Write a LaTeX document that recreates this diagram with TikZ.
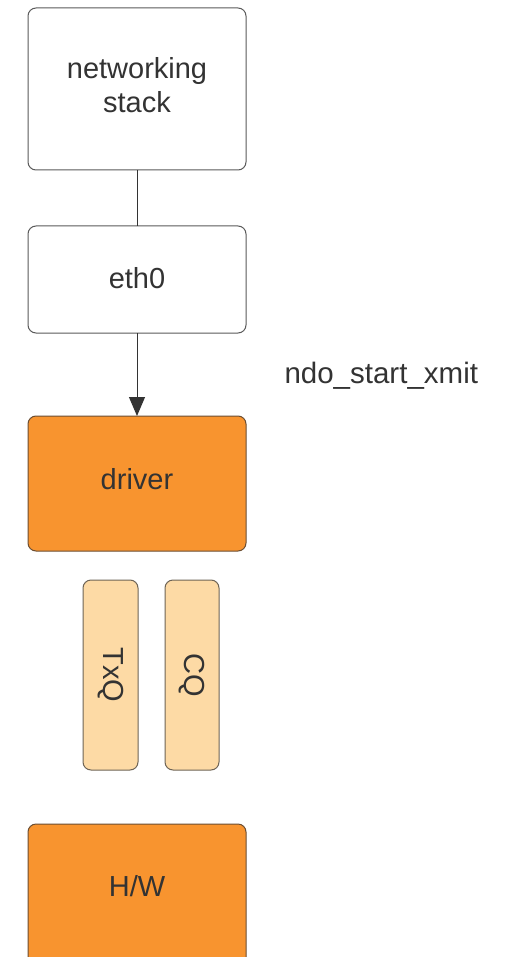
\documentclass[tikz,border=0pt]{standalone}
\usepackage{fontspec}
\setmainfont{Liberation Sans}
\usetikzlibrary{arrows.meta}
\definecolor{txt}{HTML}{333333}
\definecolor{edge}{HTML}{5A5A5A}
\definecolor{orangefill}{HTML}{F8942F}
\definecolor{orangeedge}{HTML}{6B4E33}
\definecolor{queuefill}{HTML}{FDDAA5}
\definecolor{queueedge}{HTML}{6E6456}
\begin{document}
\begin{tikzpicture}[x=1pt,y=-1pt,
  box/.style={draw=edge,line width=1pt,rounded corners=8pt,fill=white},
  hotbox/.style={box,draw=orangeedge,fill=orangefill},
  queue/.style={box,draw=queueedge,fill=queuefill},
  label/.style={font=\fontsize{29}{34}\selectfont,text=txt,align=center},
  link/.style={draw=txt,line width=1pt}]
\clip (0,0) rectangle (508,957);
\useasboundingbox (0,0) rectangle (508,957);
\fill[white] (0,0) rectangle (508,957);

% layered blocks
\path[box] (28,8) rectangle (246,170);
\node[label] (stack) at (137,85) {networking\\stack};
\coordinate (stackB) at (137,170);

\path[box] (28,226) rectangle (246,333);
\node[label] (eth) at (137,278) {eth0};
\coordinate (ethT) at (137,226);
\coordinate (ethB) at (137,333);

\path[hotbox] (28,416) rectangle (246,551);
\node[label] (drv) at (137,479) {driver};
\coordinate (drvT) at (137,416);

% queues
\path[queue] (83,580) rectangle (138,770);
\node[label,rotate=-90] (txq) at (110.5,675) {TxQ};

\path[queue] (165,580) rectangle (219,770);
\node[label,rotate=-90] (cq) at (192,675) {CQ};

\path[hotbox] (28,824) rectangle (246,975);
\node[label] (hw) at (137,886) {H/W};

\node[label,anchor=west,font=\fontsize{29.5}{34}\selectfont] (ndo) at (281,376) {ndo\_start\_xmit};

% connectors
\draw[link] (stackB) -- (ethT);
\draw[link,-{Triangle[length=19pt,width=16pt]}] (ethB) -- (drvT);
\end{tikzpicture}
\end{document}
